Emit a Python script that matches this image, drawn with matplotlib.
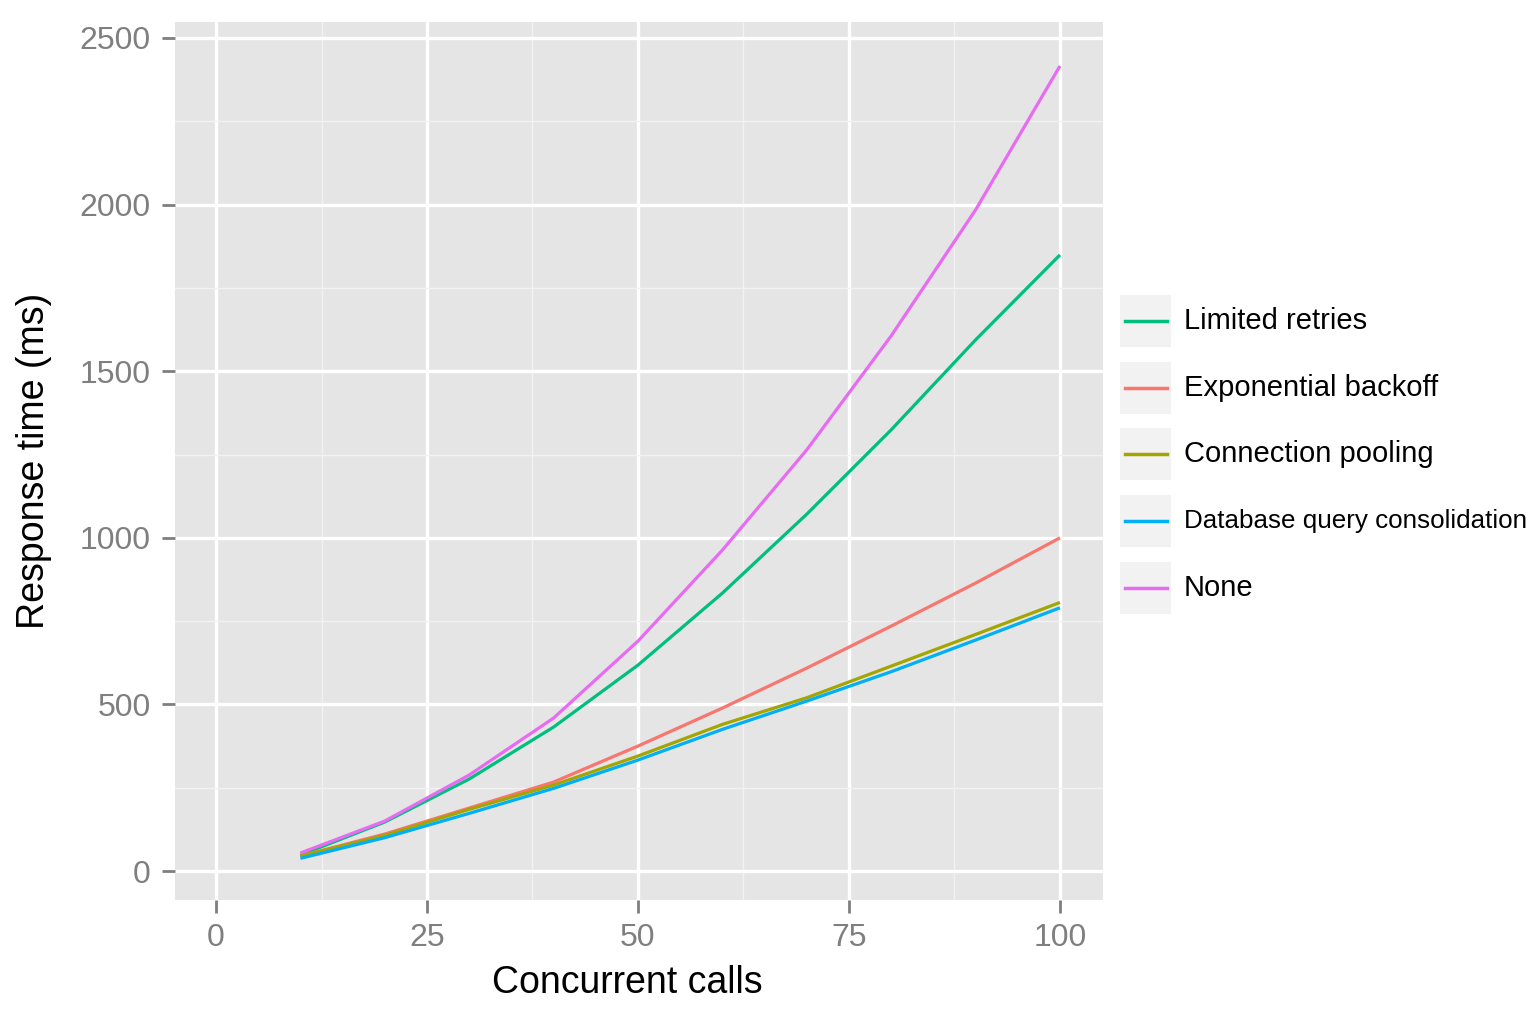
import matplotlib
matplotlib.use('Agg')
import matplotlib.pyplot as plt
from matplotlib.patches import Rectangle
from matplotlib.lines import Line2D

plt.rcParams['font.family'] = ['Liberation Sans', 'DejaVu Sans']

# concurrent calls (x) and response times (ms) per strategy
calls = [10, 20, 30, 40, 50, 60, 70, 80, 90, 100]
limited_retries = [48, 147, 276, 432, 618, 834, 1071, 1324, 1594, 1849]
exponential_backoff = [45, 111, 189, 267, 375, 489, 609, 735, 864, 1000]
connection_pooling = [45, 107, 185, 258, 345, 440, 520, 615, 710, 806]
db_consolidation = [38, 100, 173, 248, 333, 425, 510, 598, 693, 790]
none_strategy = [54, 150, 288, 459, 690, 963, 1264, 1606, 1984, 2416]

series_names = ['Limited retries', 'Exponential backoff', 'Connection pooling',
                'Database query consolidation', 'None']
series_values = [limited_retries, exponential_backoff, connection_pooling,
                 db_consolidation, none_strategy]
series_colors = ['#00BF7D', '#F8766D', '#A3A500', '#00B0F6', '#E76BF3']

x_ticks = [0, 25, 50, 75, 100]
y_ticks = [0, 500, 1000, 1500, 2000, 2500]

W, H = 1537, 1023
fig = plt.figure(figsize=(W / 100, H / 100), dpi=100)
ax = fig.add_axes([175 / W, 1 - 900 / H, (1103 - 175) / W, (900 - 22) / H])
ax.set_facecolor('#E5E5E5')

for name, vals, col in zip(series_names, series_values, series_colors):
    ax.plot(calls, vals, color=col, linewidth=2.3, solid_capstyle='butt', zorder=3)

ax.set_xlim(-4.86, 105.1)
ax.set_ylim(-87, 2548)
ax.set_xticks(x_ticks)
ax.set_yticks(y_ticks)
ax.set_xticks([12.5, 37.5, 62.5, 87.5], minor=True)
ax.set_yticks([250, 750, 1250, 1750, 2250], minor=True)
ax.grid(True, which='major', color='white', linewidth=2.4, zorder=1)
ax.grid(True, which='minor', color='#F2F2F2', linewidth=1.0, zorder=1)
ax.set_axisbelow(True)
for s in ax.spines.values():
    s.set_visible(False)
ax.tick_params(which='major', length=9.5, width=2, color='#7F7F7F',
               labelcolor='#7F7F7F', labelsize=23)
ax.tick_params(axis='y', pad=8)
ax.tick_params(axis='x', pad=7)
ax.tick_params(which='minor', length=0)

ax.set_xlabel('Concurrent calls', fontsize=27)
ax.xaxis.set_label_coords(0.487, -0.074)
ax.set_ylabel('Response time (ms)', fontsize=27, labelpad=20)

# legend with grey key boxes
row0, step = 321, 66.7
for i, (name, col) in enumerate(zip(series_names, series_colors)):
    yc = row0 + i * step
    fig.patches.append(Rectangle((1120 / W, 1 - (yc + 26) / H), 51 / W, 52 / H,
                                 transform=fig.transFigure, facecolor='#F2F2F2',
                                 edgecolor='none'))
    fig.lines.append(Line2D([1125 / W, 1167 / W], [1 - yc / H, 1 - yc / H],
                            transform=fig.transFigure, color=col, linewidth=2.5))
    fs = 18.7 if len(name) > 22 else 21
    fig.text(1184 / W, 1 - yc / H, name, fontsize=fs, va='center', ha='left')

fig.savefig('out.png', dpi=100, facecolor='white')
